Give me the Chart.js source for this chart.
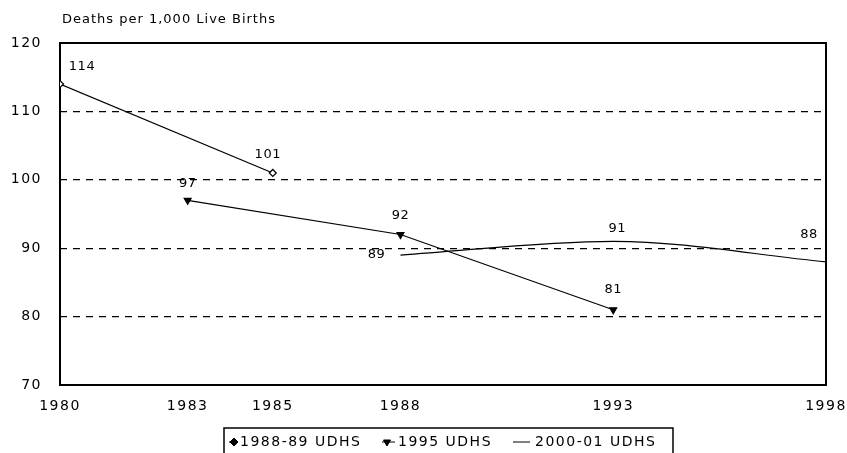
<!DOCTYPE html>
<html>
<head>
<meta charset="utf-8">
<script src="https://cdn.jsdelivr.net/npm/chart.js@4/dist/chart.umd.min.js"></script>
<style>
  html, body { margin: 0; padding: 0; background: #fff; }
  #wrap { width: 847px; height: 453px; }
</style>
</head>
<body>
<div id="wrap"><canvas id="mycanvas" width="847" height="453"></canvas></div>
<script>
// data
var yearTicks = [1980, 1983, 1985, 1988, 1993, 1998];
var udhs8889_years = [1980, 1985];
var udhs8889_values = [114, 101];
var udhs95_years = [1983, 1988, 1993];
var udhs95_values = [97, 92, 81];
var udhs0001_years = [1988, 1993, 1998];
var udhs0001_values = [89, 91, 88];
var seriesNames = ["1988-89 UDHS", "1995 UDHS", "2000-01 UDHS"];

function toPoints(xs, ys) {
	var out = [];
	for (var i in xs) out.push({x: xs[i], y: ys[i]});
	return out;
}

// label offsets (dx, dy) per dataset
var labelOffsets = [
	[[22, -17], [-5, -18]],
	[[0, -17], [0, -19], [0, -20]],
	[[-24, 0], [4, -13], [-17, -27]]
];

var tickFont = {family: "'DejaVu Sans'", size: 14};

var extras = {
	id: 'extras',
	beforeDraw: function(chart) {
		chart.ctx.letterSpacing = '1.5px';
	},
	beforeDatasetsDraw: function(chart) {
		var ctx = chart.ctx, a = chart.chartArea;
		ctx.save();
		ctx.strokeStyle = '#000';
		ctx.lineWidth = 2;
		ctx.strokeRect(a.left, a.top, a.right - a.left, a.bottom - a.top);
		ctx.restore();
	},
	afterDraw: function(chart) {
		var ctx = chart.ctx;
		ctx.save();
		ctx.fillStyle = '#000';
		ctx.textBaseline = 'middle';

		// title
		ctx.letterSpacing = '1px';
		ctx.font = "13px 'DejaVu Sans'";
		ctx.textAlign = 'left';
		ctx.fillText('Deaths per 1,000 Live Births', 62, 20);

		// value labels
		ctx.letterSpacing = '0.5px';
		ctx.textAlign = 'center';
		chart.data.datasets.forEach(function(ds, di) {
			var meta = chart.getDatasetMeta(di);
			meta.data.forEach(function(pt, pi) {
				var off = labelOffsets[di][pi];
				ctx.fillText(String(ds.data[pi].y), pt.x + off[0], pt.y + off[1]);
			});
		});

		// legend box
		ctx.letterSpacing = '1.5px';
		ctx.font = "14px 'DejaVu Sans'";
		ctx.textAlign = 'left';
		ctx.lineWidth = 1.5;
		ctx.strokeStyle = '#000';
		ctx.strokeRect(224, 428, 449, 30);
		var ly = 442;
		var items = [
			{sx: 229, tx: 240, style: 'rectRot', rot: 0},
			{sx: 382, tx: 398, style: 'triangle', rot: 180},
			{sx: 513, tx: 535, style: null, rot: 0}
		];
		items.forEach(function(it, i) {
			ctx.lineWidth = 1;
			ctx.beginPath();
			if (it.style) {
				ctx.moveTo(it.sx, ly);
				ctx.lineTo(it.tx - 3, ly);
			} else {
				ctx.moveTo(it.sx, ly);
				ctx.lineTo(it.sx + 17, ly);
			}
			ctx.stroke();
			if (it.style) {
				Chart.helpers.drawPoint(ctx, {pointStyle: it.style, radius: 4, rotation: it.rot, borderWidth: 1},
					it.sx + 5, ly);
				ctx.fill();
			}
			ctx.fillText(seriesNames[i], it.tx, ly);
		});
		ctx.restore();
	}
};

var chartdata = {
	datasets: [
		{
			label: seriesNames[0],
			data: toPoints(udhs8889_years, udhs8889_values),
			borderColor: '#000',
			backgroundColor: '#fff',
			borderWidth: 1.2,
			pointStyle: 'rectRot',
			pointRadius: 3.5,
			pointBorderWidth: 1.2,
			pointBorderColor: '#000',
			tension: 0
		},
		{
			label: seriesNames[1],
			data: toPoints(udhs95_years, udhs95_values),
			borderColor: '#000',
			backgroundColor: '#000',
			borderWidth: 1.2,
			pointStyle: 'triangle',
			pointRotation: 180,
			pointRadius: 4,
			pointBorderColor: '#000',
			tension: 0
		},
		{
			label: seriesNames[2],
			data: toPoints(udhs0001_years, udhs0001_values),
			borderColor: '#000',
			borderWidth: 1.2,
			pointRadius: 0,
			cubicInterpolationMode: 'monotone'
		}
	]
};

var ctx = document.getElementById('mycanvas');
var LineGraph = new Chart(ctx, {
	type: 'line',
	data: chartdata,
	plugins: [extras],
	options: {
		responsive: false,
		animation: false,
		layout: {padding: {top: 43, right: 21, bottom: 38, left: 0}},
		plugins: {
			legend: {display: false},
			tooltip: {enabled: false}
		},
		scales: {
			x: {
				type: 'linear',
				min: 1980,
				max: 1998,
				afterBuildTicks: function(scale) {
					scale.ticks = yearTicks.map(function(v) { return {value: v}; });
				},
				afterFit: function(scale) {
					scale.height = 30;
					scale.paddingLeft = 0;
					scale.paddingRight = 0;
				},
				grid: {display: false, drawTicks: false},
				border: {display: false},
				ticks: {
					color: '#000',
					font: tickFont,
					padding: 13,
					maxRotation: 0,
					autoSkip: false,
					callback: function(v) { return String(v); }
				}
			},
			y: {
				min: 70,
				max: 120,
				afterFit: function(scale) { scale.width = 60; },
				grid: {
					drawTicks: false,
					color: function(c) {
						var v = c.tick && c.tick.value;
						return (v === 70 || v === 120) ? 'rgba(0,0,0,0)' : '#000';
					},
					lineWidth: 1.3
				},
				border: {display: false, dash: [7, 6]},
				ticks: {
					color: '#000',
					font: tickFont,
					padding: 18,
					stepSize: 10
				}
			}
		}
	}
});
</script>
</body>
</html>
